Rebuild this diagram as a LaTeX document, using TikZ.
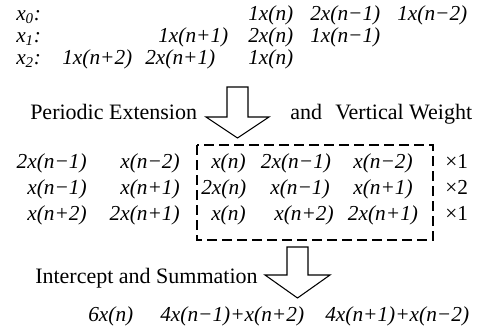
\documentclass[tikz,border=0pt]{standalone}
\usepackage{fontspec}
\setmainfont{Liberation Serif}
\begin{document}
\begin{tikzpicture}[x=0.75pt,y=-0.75pt,
  ex/.style={font=\fontsize{16}{18}\selectfont\itshape, inner sep=0pt, anchor=base west},
  hd/.style={font=\fontsize{16.5}{19}\selectfont, inner sep=0pt, anchor=base west},
  wt/.style={font=\fontsize{16}{18}\selectfont, inner sep=0pt, anchor=base west},
  bigarrow/.style={draw=black, line width=0.8pt, fill=white, line join=miter},
  dbox/.style={draw, line width=0.9pt, dash pattern=on 7.5pt off 3.75pt}]
\useasboundingbox (0,0) rectangle (487,333);
% top block
\node[ex] (l0) at (16,20) {x\textsubscript{0}:};
\node[ex] (l1) at (16,42) {x\textsubscript{1}:};
\node[ex] (l2) at (16,64) {x\textsubscript{2}:};
\node[ex] (a02) at (248,20) {1x(n)};
\node[ex] (a03) at (310,20) {2x(n−1)};
\node[ex] (a04) at (397,20) {1x(n−2)};
\node[ex] (a11) at (158,42) {1x(n+1)};
\node[ex] (a12) at (248,42) {2x(n)};
\node[ex] (a13) at (310,42) {1x(n−1)};
\node[ex] (a20) at (62,64) {1x(n+2)};
\node[ex] (a21) at (145,64) {2x(n+1)};
\node[ex] (a22) at (248,64) {1x(n)};
% heading 1
\node[hd] (h1) at (30,119) {Periodic Extension};
\node[hd] (h1b) at (290,119) {and};
\node[hd] (h1c) at (335,119) {Vertical Weight};
\draw[bigarrow] (227,87) -- (248,87) -- (248,117) -- (269,117) -- (237.5,138) -- (206,117) -- (227,117) -- cycle;
% box
\draw[dbox] (197,145) rectangle (433,240);
\node[ex,anchor=base east] (b10) at (87,168) {2x(n−1)};
\node[ex,anchor=base east] (b11) at (180,168) {x(n−2)};
\node[ex] (b12) at (211,168) {x(n)};
\node[ex,anchor=base] (b13) at (296,168) {2x(n−1)};
\node[ex,anchor=base] (b14) at (383,168) {x(n−2)};
\node[wt] (w1) at (445,168) {×1};
\node[ex,anchor=base east] (b20) at (87,194) {x(n−1)};
\node[ex,anchor=base east] (b21) at (180,194) {x(n+1)};
\node[ex] (b22) at (201,194) {2x(n)};
\node[ex,anchor=base] (b23) at (300,194) {x(n−1)};
\node[ex,anchor=base] (b24) at (383,194) {x(n+1)};
\node[wt] (w2) at (445,194) {×2};
\node[ex,anchor=base east] (b30) at (87,220) {x(n+2)};
\node[ex,anchor=base east] (b31) at (180,220) {2x(n+1)};
\node[ex] (b32) at (211,220) {x(n)};
\node[ex,anchor=base] (b33) at (304,220) {x(n+2)};
\node[ex,anchor=base] (b34) at (383,220) {2x(n+1)};
\node[wt] (w3) at (445,220) {×1};
% heading 2
\node[hd] (h2) at (35,283) {Intercept and Summation};
\draw[bigarrow] (287,247) -- (308,247) -- (308,275) -- (330,275) -- (297.5,298) -- (265,275) -- (287,275) -- cycle;
% result
\node[ex] (r1) at (88,321) {6x(n)};
\node[ex] (r2) at (160,321) {4x(n−1)+x(n+2)};
\node[ex] (r3) at (325,321) {4x(n+1)+x(n−2)};
\end{tikzpicture}
\end{document}
